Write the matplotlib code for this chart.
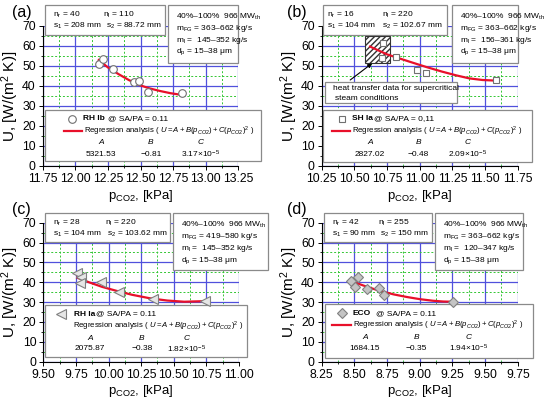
import matplotlib
matplotlib.use('Agg')
import matplotlib.pyplot as plt
from matplotlib.patches import Rectangle
from matplotlib.ticker import MultipleLocator

plt.rcParams['font.family'] = ['Liberation Sans', 'DejaVu Sans']
plt.rcParams['mathtext.fontset'] = 'custom'
plt.rcParams['mathtext.rm'] = 'Liberation Sans'
plt.rcParams['mathtext.it'] = 'Liberation Sans:italic'
plt.rcParams['mathtext.bf'] = 'Liberation Sans:bold'
plt.rcParams['mathtext.default'] = 'regular'

# ---- data ----
a_x = [12.18, 12.21, 12.29, 12.45, 12.49, 12.56, 12.82]
a_y = [50.8, 53.7, 48.3, 41.8, 42.5, 37.2, 36.7]
a_fit_x = [12.18, 12.25, 12.33, 12.41, 12.49, 12.57, 12.65, 12.73, 12.82]
a_fit_y = [53.0, 49.3, 46.0, 43.0, 40.5, 38.8, 37.5, 36.4, 35.5]

b_x = [10.72, 10.71, 10.82, 10.98, 11.05, 11.58]
b_y = [61.3, 53.8, 54.3, 48.0, 46.7, 43.0]
b_fit_x = [10.62, 10.75, 10.92, 11.05, 11.17, 11.28, 11.38, 11.48, 11.58]
b_fit_y = [59.7, 55.8, 52.2, 49.5, 47.2, 45.3, 43.8, 43.0, 42.7]

c_x = [9.76, 9.79, 9.78, 9.94, 10.08, 10.34, 10.74]
c_y = [44.8, 42.5, 39.5, 40.3, 35.2, 31.4, 30.7]
c_fit_x = [9.76, 9.85, 9.95, 10.06, 10.18, 10.32, 10.45, 10.58, 10.74]
c_fit_y = [42.3, 40.0, 37.7, 35.7, 33.7, 31.9, 30.8, 30.2, 30.5]

d_x = [8.475, 8.527, 8.506, 8.596, 8.685, 8.724, 9.255]
d_y = [40.6, 42.5, 37.5, 36.4, 37.3, 33.6, 30.2]
d_fit_x = [8.48, 8.55, 8.62, 8.70, 8.80, 8.90, 9.00, 9.10, 9.18, 9.25]
d_fit_y = [40.5, 38.8, 37.2, 35.6, 33.9, 32.6, 31.5, 30.7, 30.3, 30.2]

xlims = [(11.75, 13.25), (10.25, 11.75), (9.50, 11.00), (8.25, 9.75)]
panel_tags = ['(a)', '(b)', '(c)', '(d)']
names = ['RH Ib', 'SH Ia', 'RH Ia', 'ECO']
sapa = ['@ SA/PA = 0.11', '@ SA/PA = 0,11', '@ SA/PA = 0.11', '@ SA/PA = 0.11']
coef_A = ['5321.53', '2827.02', '2075.87', '1684.15']
coef_B = ['\u22120.81', '\u22120.48', '\u22120.38', '\u22120.35']
coef_C = ['3.17\u00d710$^{-5}$', '2.09\u00d710$^{-5}$', '1.82\u00d710$^{-5}$', '1.94\u00d710$^{-5}$']
n_r = ['40', '16', '28', '42']
n_l = ['110', '220', '220', '255']
s_1 = ['208 mm', '104 mm', '104 mm', '90 mm']
s_2 = ['88.72 mm', '102.67 mm', '103.62 mm', '150 mm']
m_fg = ['363\u2013662 kg/s', '363\u2013662 kg/s', '419\u2013580 kg/s', '363\u2013662 kg/s']
m_l = ['145\u2013352 kg/s', '156\u2013361 kg/s', '145\u2013352 kg/s', '120\u2013347 kg/s']

W, H = 550, 401
fig = plt.figure(figsize=(5.5, 4.01), dpi=100)

def fx(x):
    return x / W

def fy(y):
    return 1 - y / H

# axes rectangles in pixels: left, right, top(y=70), bottom(y=0)
ax_px = [(42.7, 238.3, 26, 166), (321.7, 517.8, 26, 166),
         (43.3, 239.0, 222.7, 361.7), (321.7, 517.8, 222.7, 361.7)]

# box layouts (pixels)
tl_box = [(45, 5, 165, 35), (322.7, 5, 446.7, 35), (45, 213.3, 170, 241.7), (324.3, 213.3, 431.7, 241.7)]
tl_txt = [(53, 103, 106), (326.7, 381.7, 381.7), (53.3, 105, 106.7), (331.7, 378.3, 380)]
rt_box = [(168, 5, 238.3, 63), (451.7, 5, 517.8, 63.3), (173.3, 213.3, 268.3, 270), (435, 213.3, 523.3, 270)]
lg_box = [(45, 110, 260.7, 161.5), (322.7, 110, 531.7, 162.3), (45, 305, 246.7, 356.7), (325, 304.3, 532.7, 357.7)]
# marker x, name x, sapa x, line x0, line x1, regression x, A x, B x, C x
lg_pos = [(72.3, 83.3, 108.5, 64, 82, 84, 101, 151, 201),
          (341.7, 352.3, 374, 331.7, 350, 352.3, 370, 418.3, 468),
          (61, 74, 96, None, None, 73.3, 90, 141.7, 186.7),
          (341.7, 352.3, 376, 331.7, 350.5, 353.3, 365, 416.7, 468.3)]

fs = 6.0
box_edge = '#8a8a8a'

def add_box(ax, x0, y0, x1, y1):
    ax.add_patch(Rectangle((fx(x0), fy(y1)), (x1 - x0) / W, (y1 - y0) / H,
                           transform=fig.transFigure, facecolor='white',
                           edgecolor=box_edge, lw=0.9, clip_on=False, zorder=3))

def add_text(ax, x, y, s, **kw):
    ax.text(fx(x), fy(y), s, transform=fig.transFigure, fontsize=kw.pop('fontsize', fs),
            va='center', ha=kw.pop('ha', 'left'), zorder=5, clip_on=False, **kw)

series = [(a_x, a_y, a_fit_x, a_fit_y, 'o', 'white', '#707070', 5.5),
          (b_x, b_y, b_fit_x, b_fit_y, 's', 'white', '#707070', 5),
          (c_x, c_y, c_fit_x, c_fit_y, '<', '#e6e6e6', '#808080', 6.5),
          (d_x, d_y, d_fit_x, d_fit_y, 'D', '#c4c4c4', '#808080', 5)]

regr = r'Regression analysis ( $\mathit{U = A + B(p_{CO2}) + C(p_{CO2})^2}$ )'

for i in range(4):
    l, r, t, b = ax_px[i]
    ax = fig.add_axes([fx(l), fy(b), (r - l) / W, (b - t) / H])
    px_, py_, fx_, fy_, mk, mfc, mec, ms = series[i]

    ax.set_xlim(*xlims[i])
    ax.set_ylim(0, 70)
    ax.xaxis.set_major_locator(MultipleLocator(0.25))
    ax.xaxis.set_minor_locator(MultipleLocator(0.125))
    ax.yaxis.set_major_locator(MultipleLocator(10))
    ax.yaxis.set_minor_locator(MultipleLocator(5))
    ax.xaxis.set_major_formatter(plt.FormatStrFormatter('%.2f'))
    ax.set_axisbelow(True)
    ax.grid(which='major', color='#5050dc', lw=0.9, ls='-')
    ax.grid(which='minor', color='#33c633', lw=0.7, ls=(0, (2, 2)))
    for sp in ['top', 'right']:
        ax.spines[sp].set_visible(False)
    for sp in ['left', 'bottom']:
        ax.spines[sp].set_linewidth(0.8)
    ax.tick_params(which='major', direction='out', length=3, width=0.7, labelsize=8.8, pad=2)
    ax.tick_params(which='minor', direction='out', length=1.5, width=0.6)
    ax.set_xlabel(r'p$_{CO2}$, [kPa]', fontsize=9.5, labelpad=2)
    ax.set_ylabel(r'U, [W/(m$^2$ K)]', fontsize=11, labelpad=1)

    ax.plot(fx_, fy_, color='#e8102a', lw=1.6, zorder=6)
    ax.plot(px_, py_, ls='none', marker=mk, mfc=mfc, mec=mec, ms=ms, mew=0.8, zorder=7)

    # panel tag
    add_text(ax, l - 31 if i % 2 == 0 else l - 35, t - 13.5, panel_tags[i], fontsize=11.5)

    # top-left box
    x0, y0, x1, y1 = tl_box[i]
    add_box(ax, x0, y0, x1, y1)
    c1, c2, c3 = tl_txt[i]
    add_text(ax, c1, y0 + 9.5, 'n$_r$ = ' + n_r[i])
    add_text(ax, c2, y0 + 9.5, 'n$_l$ = ' + n_l[i])
    add_text(ax, c1, y0 + 21, 's$_1$ = ' + s_1[i])
    add_text(ax, c3, y0 + 21, 's$_2$ = ' + s_2[i])

    # right box
    x0, y0, x1, y1 = rt_box[i]
    add_box(ax, x0, y0, x1, y1)
    add_text(ax, x0 + 8, y0 + 12, '40%\u2013100%  966 MW$_{th}$')
    add_text(ax, x0 + 8, y0 + 23, 'm$_{FG}$ = ' + m_fg[i])
    add_text(ax, x0 + 8, y0 + 35, 'm$_l$ =  ' + m_l[i])
    add_text(ax, x0 + 8, y0 + 47, 'd$_p$ = 15\u201338 \u03bcm')

    # legend box
    x0, y0, x1, y1 = lg_box[i]
    add_box(ax, x0, y0, x1, y1)
    mx, nx, sx, lx0, lx1, rx, ax_, bx_, cx_ = lg_pos[i]
    ax.plot([fx(mx)], [fy(y0 + 9)], transform=fig.transFigure, ls='none', marker=mk,
            mfc=mfc, mec=mec, ms=ms, mew=0.8, clip_on=False, zorder=6)
    add_text(ax, nx, y0 + 9, names[i], fontweight='bold')
    add_text(ax, sx, y0 + 9, sapa[i])
    if lx0 is not None:
        ax.plot([fx(lx0), fx(lx1)], [fy(y0 + 21), fy(y0 + 21)], transform=fig.transFigure,
                color='#e8102a', lw=1.6, clip_on=False, zorder=6)
    add_text(ax, rx, y0 + 21, regr, fontsize=5.6)
    add_text(ax, ax_, y0 + 33, 'A', ha='center', style='italic')
    add_text(ax, bx_, y0 + 33, 'B', ha='center', style='italic')
    add_text(ax, cx_, y0 + 33, 'C', ha='center', style='italic')
    add_text(ax, ax_, y0 + 44, coef_A[i], ha='center')
    add_text(ax, bx_, y0 + 44, coef_B[i], ha='center')
    add_text(ax, cx_, y0 + 44, coef_C[i], ha='center')

    if i == 1:
        ax.add_patch(Rectangle((10.58, 51.3), 0.19, 13.7, facecolor='white',
                               edgecolor='#333333', hatch='//////', lw=0.8, zorder=4))
        add_box(ax, 325, 81.7, 456.7, 103.3)
        add_text(ax, 333.3, 88.3, 'heat transfer data for supercritical')
        add_text(ax, 335, 98.3, 'steam conditions')
        ax.annotate('', xy=(10.635, 51.3), xytext=(10.468, 43.0),
                    arrowprops=dict(arrowstyle='-|>', color='black', lw=0.8,
                                    mutation_scale=6, shrinkA=0, shrinkB=0),
                    zorder=6)

plt.savefig('out.png', dpi=100)
